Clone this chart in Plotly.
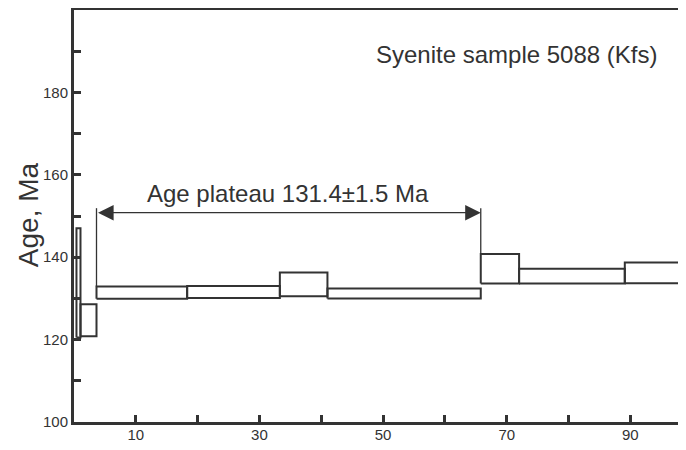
import plotly.graph_objects as go

# Step data: cumulative 39Ar released (%) vs apparent age (Ma)
step_start = [0.4, 1.05, 3.64, 18.3, 33.3, 41.0, 65.8, 72.0, 89.1]
step_end   = [1.05, 3.64, 18.3, 33.3, 41.0, 65.8, 72.0, 89.1, 100.0]
age_low    = [120.5, 120.8, 129.9, 130.1, 130.5, 130.0, 133.6, 133.6, 133.7]
age_high   = [147.0, 128.6, 132.9, 133.0, 136.3, 132.4, 140.8, 137.2, 138.7]

plateau_x = [3.64, 65.8]
plateau_arrow_y = 150.8
plateau_top_y = 151.9
plateau_label = "Age plateau 131.4±1.5 Ma"
sample_label = "Syenite sample 5088 (Kfs)"

x_tickvals = [10, 20, 30, 40, 50, 60, 70, 80, 90]
x_ticktext = ["10", "", "30", "", "50", "", "70", "", "90"]
y_tickvals = [100, 110, 120, 130, 140, 150, 160, 170, 180, 190]
y_ticktext = ["100", "", "120", "", "140", "", "160", "", "180", ""]

INK = "#333333"
FONT = "Liberation Sans, Arial, sans-serif"

bx, by = [], []
for x0, x1, lo, hi in zip(step_start, step_end, age_low, age_high):
    bx += [x0, x1, x1, x0, x0, None]
    by += [lo, lo, hi, hi, lo, None]

fig = go.Figure()
fig.add_trace(go.Scatter(x=bx, y=by, mode="lines",
                         line=dict(color=INK, width=2), hoverinfo="skip",
                         showlegend=False))

# plateau vertical markers
i0 = step_start.index(plateau_x[0])
i1 = step_start.index(plateau_x[1])
fig.add_trace(go.Scatter(
    x=[plateau_x[0], plateau_x[0], None, plateau_x[1], plateau_x[1]],
    y=[age_high[i0], plateau_top_y, None, age_high[i1], plateau_top_y],
    mode="lines", line=dict(color=INK, width=1.3), hoverinfo="skip",
    showlegend=False))

fig.add_annotation(x=plateau_x[1], y=plateau_arrow_y, ax=plateau_x[0], ay=plateau_arrow_y,
                   xref="x", yref="y", axref="x", ayref="y", text="",
                   showarrow=True, arrowside="end+start", arrowhead=2, startarrowhead=2,
                   arrowsize=2.4, startarrowsize=2.4, arrowwidth=1.3, arrowcolor=INK,
                   standoff=0, startstandoff=0)

fig.add_annotation(x=34.6, y=155.4, xref="x", yref="y", text=plateau_label,
                   showarrow=False, font=dict(family=FONT, size=24, color=INK))
fig.add_annotation(x=71.5, y=189.3, xref="x", yref="y", text=sample_label,
                   showarrow=False, font=dict(family=FONT, size=24, color=INK))
fig.add_annotation(x=(20 - 66) / 612, y=150.2, xref="paper", yref="y", text="Age, Ma",
                   textangle=-90, showarrow=False, xanchor="center", yanchor="middle",
                   font=dict(family=FONT, size=28, color=INK))

fig.update_xaxes(range=[0, 99.0], tickmode="array", tickvals=x_tickvals, ticktext=x_ticktext,
                 ticks="inside", ticklen=7, tickwidth=3, tickcolor=INK,
                 showline=True, linewidth=3, linecolor=INK, mirror=True,
                 showgrid=False, zeroline=False, automargin=False,
                 ticklabelstandoff=-3,
                 tickfont=dict(family=FONT, size=15, color=INK))
fig.update_yaxes(range=[100, 200], tickmode="array", tickvals=y_tickvals, ticktext=y_ticktext,
                 ticks="inside", ticklen=7, tickwidth=3, tickcolor=INK,
                 showline=True, linewidth=3, linecolor=INK, mirror=False,
                 showgrid=False, zeroline=False, automargin=False,
                 tickfont=dict(family=FONT, size=15, color=INK))

# the page places the figure 8 px in from the top-left corner
fig.update_layout(width=678, height=442,
                  margin=dict(l=66, r=0, t=2, b=28, autoexpand=False),
                  plot_bgcolor="white", paper_bgcolor="white", showlegend=False)

fig.write_html("out.html")
